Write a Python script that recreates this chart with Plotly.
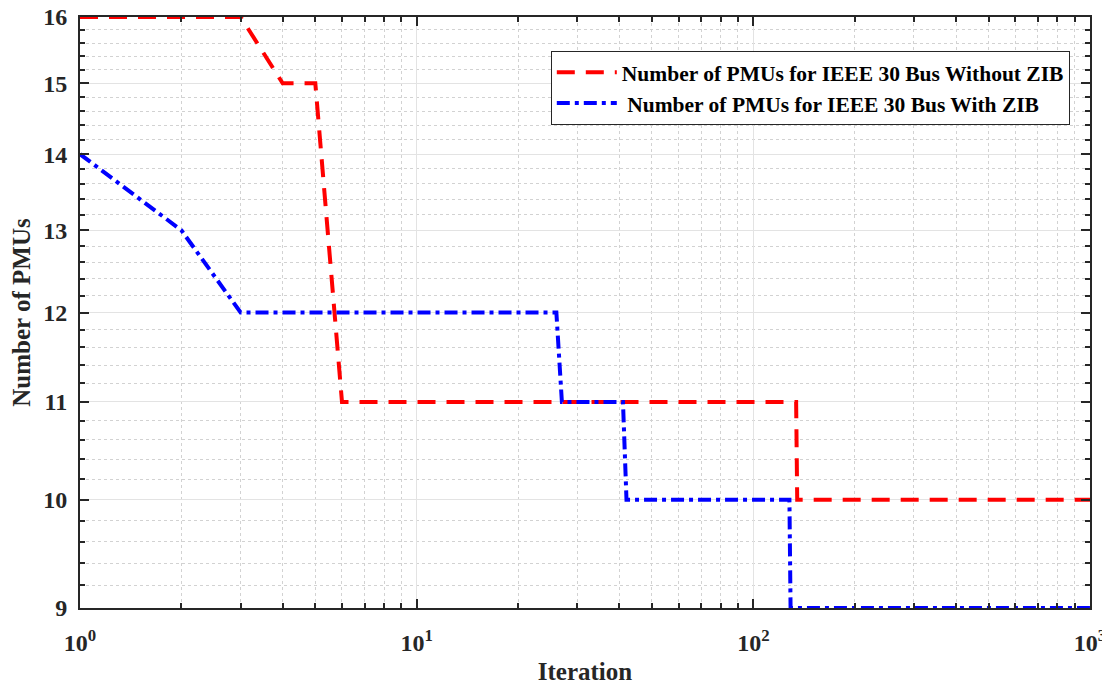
import plotly.graph_objects as go

# Data (change points of the step curves; iterations on log scale)
red_x = [1, 2, 3, 4, 5, 6, 134, 135, 1000]
red_y = [16, 16, 16, 15, 15, 11, 11, 10, 10]
blue_x = [1, 2, 3, 26, 27, 41, 42, 128, 129, 1000]
blue_y = [14, 13, 12, 12, 11, 11, 10, 10, 9, 9]

red_name = "Number of PMUs for IEEE 30 Bus Without ZIB"
blue_name = " Number of PMUs for IEEE 30 Bus With ZIB"

x_major = [1, 10, 100, 1000]
x_major_text = ["10<sup>0</sup>", "10<sup>1</sup>", "10<sup>2</sup>", "10<sup>3</sup>"]
y_major = [9, 10, 11, 12, 13, 14, 15, 16]
y_major_text = ["9", "10", "11", "12", "13", "14", "15", "16"]

x_minor = [m * d for d in (1, 10, 100) for m in range(2, 10)]
y_minor = [v + f / 10 for v in range(9, 16) for f in (2, 4, 6, 8)]

FONT = "Liberation Serif, Times New Roman, serif"
AXC = "#262626"

fig = go.Figure()
fig.add_trace(go.Scatter(x=red_x, y=red_y, mode="lines", name=red_name,
                         line=dict(color="#FF0000", width=4, dash="18px,11px")))
fig.add_trace(go.Scatter(x=blue_x, y=blue_y, mode="lines", name=blue_name,
                         line=dict(color="#0000FF", width=4, dash="13px,5px,4px,5px")))

axis_common = dict(
    showline=True, linecolor=AXC, linewidth=2, mirror="allticks",
    ticks="inside", ticklen=9, tickwidth=2, tickcolor=AXC,
    showgrid=True, gridcolor="#e3e3e3", gridwidth=1, zeroline=False,
    automargin=False, ticklabeloverflow="allow",
    tickfont=dict(family=FONT, size=24, color=AXC, weight="bold"),
)

fig.update_xaxes(type="log", range=[0, 3], tickmode="array",
                 tickvals=x_major, ticktext=x_major_text, ticklabelstandoff=12,
                 title=dict(text="Iteration", standoff=8,
                            font=dict(family=FONT, size=25, color=AXC, weight="bold")),
                 minor=dict(tickmode="array", tickvals=x_minor, ticks="inside", ticklen=5,
                            tickwidth=1.5, tickcolor=AXC, showgrid=True,
                            gridcolor="#d2d2d2", griddash="dot", gridwidth=1),
                 **axis_common)
fig.update_yaxes(type="log", range=[0.954242509, 1.204119983], tickmode="array",
                 tickvals=y_major, ticktext=y_major_text, ticklabelstandoff=6,
                 title=dict(text="Number of PMUs", standoff=10,
                            font=dict(family=FONT, size=25, color=AXC, weight="bold")),
                 minor=dict(tickmode="array", tickvals=y_minor, ticks="inside", ticklen=5,
                            tickwidth=1.5, tickcolor=AXC, showgrid=True,
                            gridcolor="#d2d2d2", griddash="dot", gridwidth=1),
                 **axis_common)

fig.update_layout(
    width=1110, height=686,
    margin=dict(l=72, r=28, t=9, b=86),
    paper_bgcolor="white", plot_bgcolor="white",
    font=dict(family=FONT, color=AXC),
    legend=dict(x=0.98, y=0.943, xanchor="right", yanchor="top",
                bgcolor="white", bordercolor=AXC, borderwidth=1,
                font=dict(family=FONT, size=21.5, color="#000000", weight="bold"),
                itemwidth=60, tracegroupgap=0),
)

fig.write_html("out.html")
